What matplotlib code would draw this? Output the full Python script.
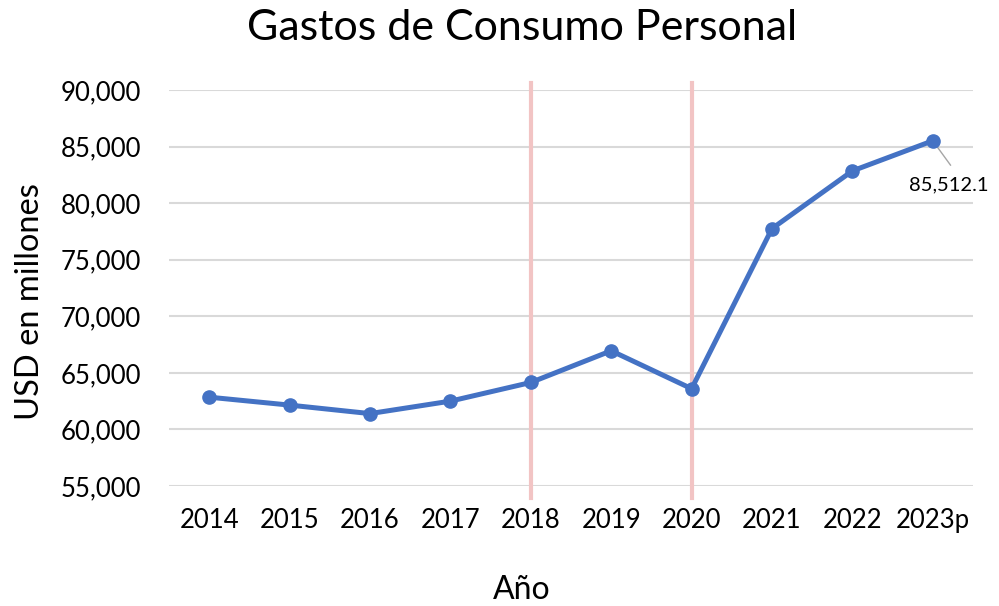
import matplotlib
matplotlib.use("Agg")
import matplotlib.pyplot as plt
from matplotlib.ticker import FuncFormatter

years = ["2014", "2015", "2016", "2017", "2018", "2019", "2020", "2021", "2022", "2023p"]
gastos = [62850, 62150, 61400, 62500, 64150, 66950, 63600, 77750, 82850, 85512.1]
highlight_years = ["2018", "2020"]
yticks = [55000, 60000, 65000, 70000, 75000, 80000, 85000, 90000]

plt.rcParams['font.family'] = ['Lato', 'DejaVu Sans']

fig = plt.figure(figsize=(9.99, 6.06), dpi=100)
ax = fig.add_axes([169/999, 1-486/606, (973-169)/999, (486-90)/606])

x = list(range(len(years)))
ax.set_xlim(-0.5, len(years) - 0.5)
ax.set_ylim(55000, 90000)
ax.set_yticks(yticks)
ax.yaxis.set_major_formatter(FuncFormatter(lambda v, p: f"{v:,.0f}"))
ax.set_xticks(x)
ax.set_xticklabels(years)
ax.grid(axis='y', color='#D9D9D9', linewidth=1.5)
ax.set_axisbelow(True)
for s in ax.spines.values():
    s.set_visible(False)
ax.tick_params(axis='both', length=0, labelsize=18.5, colors='#000000')
ax.tick_params(axis='x', pad=16)
ax.tick_params(axis='y', pad=20)

for hy in highlight_years:
    ax.axvline(years.index(hy), ymin=-0.03, ymax=1.018, color='#F2C4C4', linewidth=3, clip_on=False, zorder=1)

ax.plot(x, gastos, color='#4472C4', linewidth=3.6, marker='o', markersize=9.5, zorder=3)

last = len(years) - 1
ax.plot([last, last + 0.22], [gastos[-1], gastos[-1] - 2150], color='#A6A6A6', linewidth=1, zorder=2)
ax.text(last - 0.29, gastos[-1] - 3900, f"{gastos[-1]:,.1f}", fontsize=14.5, ha='left', va='center')

fig.text(0.523, 1 - 28/606, "Gastos de Consumo Personal", fontsize=31, ha='center', va='center')
ax.set_xlabel("Año", fontsize=23, va='center', ha='center')
ax.xaxis.set_label_coords(0.439, -0.263)
ax.set_ylabel("USD en millones", fontsize=23.5, va='center', ha='center')
ax.yaxis.set_label_coords(-0.173, 0.467)

fig.savefig("out.png", dpi=100)
